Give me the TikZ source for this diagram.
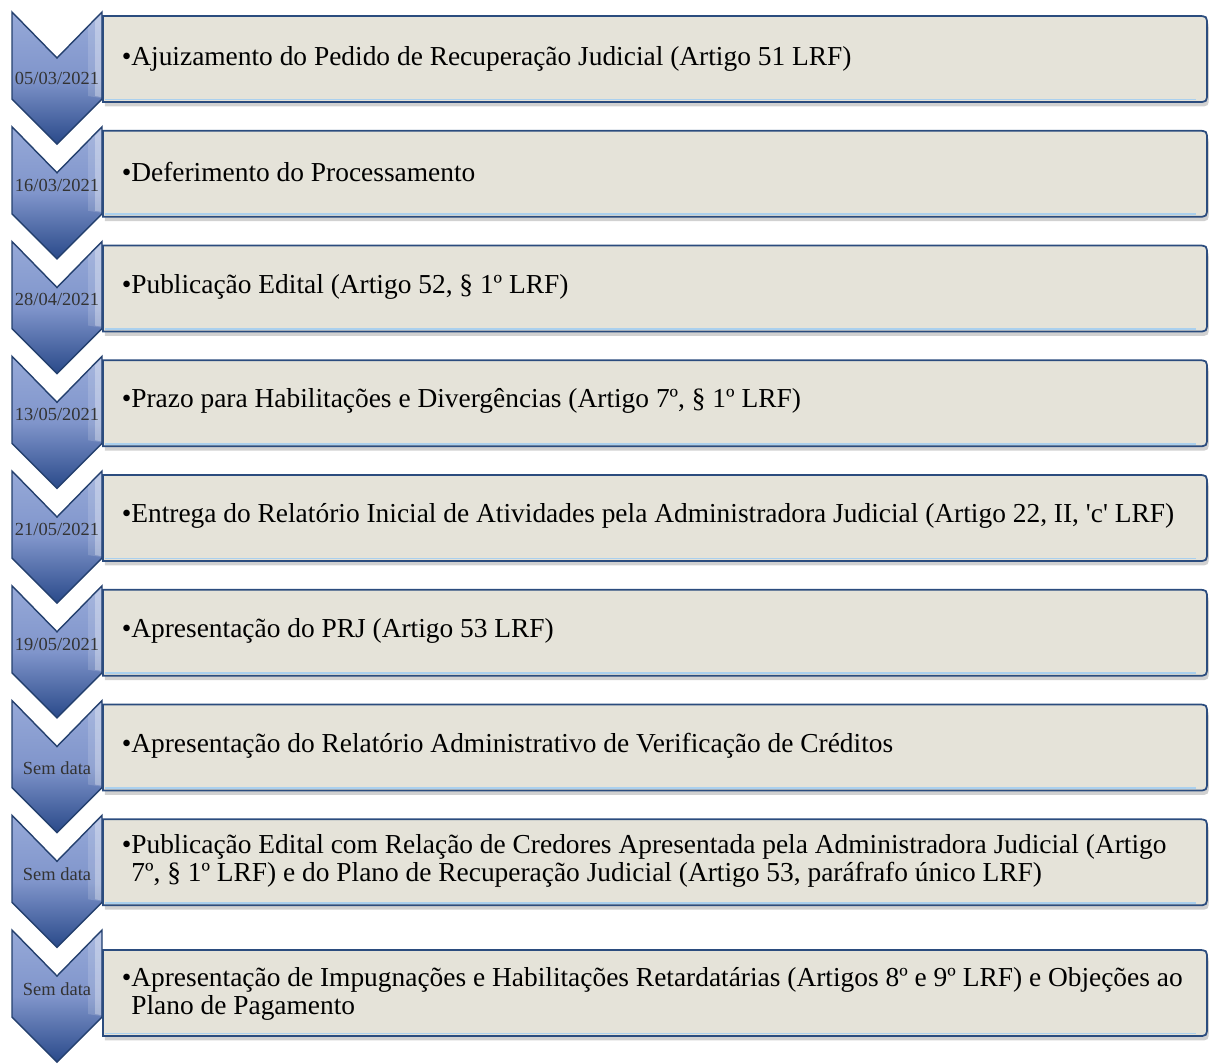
\documentclass[tikz,border=0pt]{standalone}
\usepackage{fontspec}
\setmainfont{Liberation Serif}
\usepackage{tikz}
\usetikzlibrary{calc}
\definecolor{chevtop}{RGB}{150,169,216}
\definecolor{chevmid}{RGB}{128,149,203}
\definecolor{chevbot}{RGB}{42,74,138}
\definecolor{chevline}{RGB}{36,64,110}
\definecolor{boxfill}{RGB}{229,227,217}
\definecolor{boxline}{RGB}{43,76,126}
\definecolor{boxglow}{RGB}{170,208,238}

\begin{document}
\begin{tikzpicture}[x = 0.02cm, y = -0.02cm,
		chevron/.style = {draw = chevline, line width = 0.8pt, top color = chevtop, bottom color = chevbot, middle color = chevmid},
		etapa/.style = {draw = boxline, line width = 1pt, fill = boxfill,
			preaction = {fill = black, opacity = 0.18, transform canvas = {xshift = 1pt, yshift = -2.5pt}}},
		data/.style = {text = black!80, inner sep = 0, font = \fontsize{10.5}{12}\selectfont},
		texto/.style = {anchor = west, align = left, inner sep = 0, font = \fontsize{15.6}{15.9}\selectfont}]
				\useasboundingbox (0, 0) rectangle (1209, 1063);
				\foreach \i in {0,...,8} {
					\pgfmathsetmacro\t{12 + 114.75*\i}
					\pgfmathsetmacro\r{\t + ifthenelse(\i == 8, 20, 4)}
					% seta
					\path[chevron] (12, \t) -- (57, \t+46) -- (102, \t) -- (102, \t+87) -- (57, \t+132) -- (12, \t+87) -- cycle;
					\fill[white, opacity = 0.15] (88, \t+15) -- (101, \t+2) -- (101, \t+86) -- (88, \t+84) -- cycle;
					\fill[white, opacity = 0.3] (95, \t+9) -- (101, \t+3) -- (101, \t+85) -- (95, \t+84) -- cycle;
					% caixa
					\path[etapa] (103, \r) -- (1197, \r) .. controls (1207, \r) .. (1207, \r+10) -- (1207, \r+76)
						.. controls (1207, \r+86) .. (1197, \r+86) -- (103, \r+86) -- cycle;
					\draw[boxglow, line width = 1pt] (105, \r+83.5) -- (1196, \r+83.5);
				}
				% 1
				\node[data] (d1) at (57, 78) {05/03/2021};
				\node[texto] (e1) at (131, 59) {\llap{\textbullet}Ajuizamento do Pedido de Recuperação Judicial (Artigo 51 LRF)};
				% 2
				\node[data] (d2) at (57, 185) {16/03/2021};
				\node[texto] (e2) at (131, 172) {\llap{\textbullet}Deferimento do Processamento};
				% 3
				\node[data] (d3) at (57, 299) {28/04/2021};
				\node[texto] (e3) at (131, 287) {\llap{\textbullet}Publicação Edital (Artigo 52, § 1º LRF)};
				% 4
				\node[data] (d4) at (57, 414) {13/05/2021};
				\node[texto] (e4) at (131, 401) {\llap{\textbullet}Prazo para Habilitações e Divergências (Artigo 7º, § 1º LRF)};
				% 5
				\node[data] (d5) at (57, 529) {21/05/2021};
				\node[texto] (e5) at (131, 516) {\llap{\textbullet}Entrega do Relatório Inicial de Atividades pela Administradora Judicial (Artigo 22, II, \textquotesingle c\textquotesingle\ LRF)};
				% 6
				\node[data] (d6) at (57, 644) {19/05/2021};
				\node[texto] (e6) at (131, 631) {\llap{\textbullet}Apresentação do PRJ (Artigo 53 LRF)};
				% 7
				\node[data] (d7) at (57, 768) {Sem data};
				\node[texto] (e7) at (131, 746) {\llap{\textbullet}Apresentação do Relatório Administrativo de Verificação de Créditos};
				% 8
				\node[data] (d8) at (57, 874) {Sem data};
				\node[texto] (e8) at (131, 861) {\llap{\textbullet}Publicação Edital com Relação de Credores Apresentada pela Administradora Judicial (Artigo\\%
					7º, § 1º LRF) e do Plano de Recuperação Judicial (Artigo 53, paráfrafo único LRF)};
				% 9
				\node[data] (d9) at (57, 989) {Sem data};
				\node[texto] (e9) at (131, 994) {\llap{\textbullet}Apresentação de Impugnações e Habilitações Retardatárias (Artigos 8º e 9º LRF) e Objeções ao\\%
					Plano de Pagamento};
			\end{tikzpicture}
\end{document}
